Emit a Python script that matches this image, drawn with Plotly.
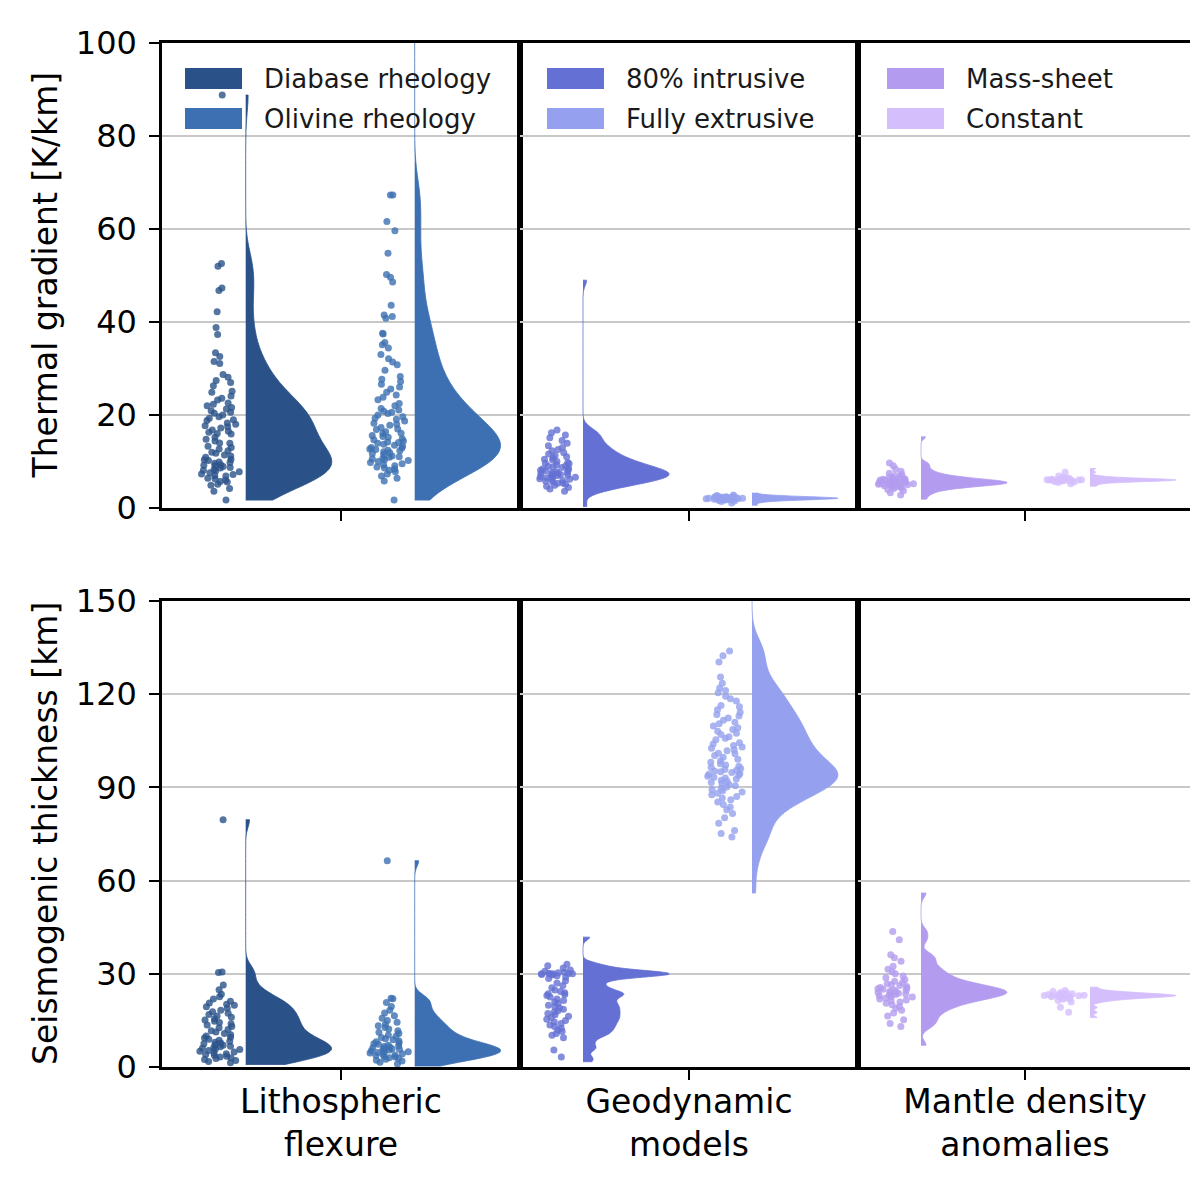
import numpy as np
import plotly.graph_objects as go

# page is drawn with an 8px body margin; reference pixel coords are shifted by this
OFF = 8
W, H = 1198 - OFF, 1178 - OFF

GROUP_LABELS = ['Lithospheric<br>flexure', 'Geodynamic<br>models', 'Mantle density<br>anomalies']
SERIES_NAMES = ['Diabase rheology', 'Olivine rheology', '80% intrusive',
                'Fully extrusive', 'Mass-sheet', 'Constant']
SERIES_COLORS = ['#2a5289', '#3c70b2', '#6470d3', '#95a1ee', '#b39cef', '#d4bffc']
TG_TICKS = [0, 20, 40, 60, 80, 100]
ST_TICKS = [0, 30, 60, 90, 120, 150]

# thermal gradient [K/km] - the plotted sample points
tg_diabase = [1.7, 3.6, 4.2, 4.9, 5.1, 5.6, 5.7, 6.0, 6.3, 6.4, 6.9, 7.0, 7.2, 7.3, 7.6, 7.8, 8.0, 8.1,
              8.3, 8.6, 8.7, 8.9, 9.1, 9.2, 9.3, 9.6, 9.8, 9.9, 10.2, 10.4, 10.5, 10.9, 11.2, 11.4,
              11.8, 12.0, 12.3, 12.7, 13.0, 13.3, 13.9, 14.0, 14.4, 14.8, 15.2, 15.9, 16.0, 16.3,
              16.5, 16.8, 17.2, 17.5, 17.7, 18.0, 18.3, 18.8, 19.0, 19.3, 19.6, 20.0, 20.4, 20.6,
              20.9, 21.3, 21.6, 22.0, 22.3, 22.6, 23.2, 23.6, 24.1, 24.9, 25.1, 26.3, 27.0, 27.4,
              28.1, 28.7, 31.1, 31.5, 32.6, 33.4, 37.3, 38.8, 42.2, 46.8, 47.3, 52.0, 52.6, 88.8]
tg_olivine = [1.7, 5.8, 6.4, 6.9, 7.3, 7.8, 8.1, 8.4, 8.6, 8.8, 9.1, 9.3, 9.5, 9.8, 10.0, 10.2, 10.4,
              10.6, 10.7, 10.9, 11.0, 11.2, 11.5, 11.7, 11.9, 12.1, 12.3, 12.4, 12.6, 12.7, 12.9,
              13.0, 13.3, 13.5, 13.7, 13.9, 14.1, 14.2, 14.4, 14.7, 14.9, 15.2, 15.4, 15.6, 16.0,
              16.1, 16.4, 16.9, 17.0, 17.3, 17.8, 18.0, 18.2, 18.7, 19.1, 19.3, 19.6, 20.0, 20.3,
              20.6, 20.8, 21.1, 21.4, 22.0, 22.5, 23.3, 23.8, 24.3, 24.9, 25.6, 26.0, 26.6, 27.2,
              27.7, 28.3, 29.6, 30.8, 31.4, 32.1, 33.0, 34.4, 35.1, 35.6, 37.4, 37.6, 40.8, 41.2,
              41.5, 43.6, 48.6, 49.6, 50.2, 54.8, 59.6, 61.6, 67.3, 67.3]
tg_intrusive = [3.6, 4.1, 4.4, 4.7, 4.9, 5.1, 5.3, 5.4, 5.6, 5.8, 5.9, 6.1, 6.2, 6.3, 6.5, 6.6,
                6.7, 6.8, 6.9, 7.0, 7.1, 7.2, 7.3, 7.4, 7.5, 7.6, 7.7, 7.8, 8.0, 8.1, 8.2, 8.4,
                8.5, 8.7, 8.8, 9.0, 9.1, 9.3, 9.5, 9.6, 9.8, 10.0, 10.3, 10.5, 10.8, 11.0, 11.3,
                11.6, 11.9, 12.3, 12.6, 13.0, 13.4, 13.9, 14.5, 15.1, 15.7, 16.2, 16.8]
tg_extrusive = [1.1, 1.4, 1.5, 1.6, 1.7, 1.7, 1.8, 1.8, 1.9, 1.9, 1.9, 2.0, 2.0, 2.0, 2.0, 2.1,
                2.1, 2.1, 2.1, 2.2, 2.2, 2.2, 2.2, 2.3, 2.3, 2.3, 2.4, 2.4, 2.5, 2.5, 2.6, 2.7, 2.8]
tg_masssheet = [2.8, 3.3, 3.7, 4.0, 4.2, 4.3, 4.5, 4.6, 4.7, 4.8, 4.9, 5.0, 5.0, 5.1, 5.1, 5.2,
                5.3, 5.3, 5.4, 5.4, 5.5, 5.5, 5.6, 5.6, 5.7, 5.7, 5.8, 5.9, 6.0, 6.0, 6.1, 6.2,
                6.3, 6.4, 6.5, 6.6, 6.8, 7.0, 7.2, 7.5, 7.9, 8.4, 9.1, 9.7]
tg_constant = [5.2, 5.5, 5.6, 5.7, 5.8, 5.8, 5.9, 5.9, 5.9, 6.0, 6.0, 6.0, 6.0, 6.1, 6.1, 6.1,
               6.2, 6.2, 6.3, 6.3, 6.4, 6.5, 6.6, 6.9, 7.7]
# values that only feed the density curves (not among the plotted points)
tg_diabase_tail = []
tg_olivine_tail = [118.0]
tg_intrusive_tail = [0.3, 49.0]
tg_extrusive_tail = [0.6, 3.2]
tg_masssheet_tail = [1.9, 15.3]
tg_constant_tail = [4.7, 8.5]

# seismogenic thickness [km]
st_diabase = [1.4, 1.8, 2.1, 2.4, 2.7, 3.0, 3.2, 3.5, 3.8, 4.0, 4.3, 4.6, 4.8, 5.1, 5.3, 5.6, 5.8,
              6.0, 6.2, 6.5, 6.7, 7.0, 7.2, 7.5, 7.7, 8.0, 8.3, 8.6, 8.9, 9.3, 9.6, 10.0, 10.4,
              10.8, 11.3, 11.7, 12.1, 12.6, 13.0, 13.5, 13.9, 14.3, 14.7, 15.1, 15.5, 16.0, 16.4,
              16.9, 17.3, 17.8, 18.3, 18.9, 19.4, 19.9, 20.2, 20.6, 21.2, 21.9, 22.6, 23.4, 24.9,
              26.4, 30.4, 30.6, 79.6]
st_olivine = [1.0, 1.5, 1.9, 2.2, 2.5, 2.8, 3.0, 3.2, 3.5, 3.7, 3.9, 4.1, 4.3, 4.5, 4.7, 4.9, 5.0,
              5.2, 5.4, 5.5, 5.7, 5.9, 6.0, 6.2, 6.4, 6.6, 6.8, 7.0, 7.3, 7.5, 7.8, 8.1, 8.4, 8.8,
              9.1, 9.5, 9.9, 10.3, 10.8, 11.2, 11.7, 12.2, 12.7, 13.3, 13.8, 14.4, 15.0, 15.7,
              16.5, 17.4, 18.3, 19.5, 20.8, 22.0, 22.1, 66.4]
st_intrusive = [3.2, 5.5, 9.4, 10.2, 10.8, 11.4, 11.9, 12.5, 13.0, 13.5, 14.0, 14.5, 15.0, 15.4,
                15.9, 16.3, 16.8, 17.2, 17.7, 18.1, 18.6, 19.0, 19.5, 19.9, 20.4, 20.9, 21.4,
                21.9, 22.5, 23.0, 23.3, 23.6, 23.9, 24.3, 24.8, 25.5, 26.2, 27.0, 27.8, 28.5,
                29.0, 29.4, 29.6, 29.8, 29.9, 30.0, 30.0, 30.0, 30.1, 30.2, 30.3, 30.5, 30.8,
                31.2, 31.9, 32.6, 33.1]
st_extrusive = [74.0, 75.2, 76.1, 78.5, 80.2, 81.6, 82.8, 83.7, 84.5, 85.3, 86.0, 86.6, 87.1, 87.6,
                88.1, 88.5, 88.9, 89.3, 89.7, 90.1, 90.5, 90.9, 91.3, 91.6, 92.0, 92.3, 92.7,
                93.0, 93.3, 93.6, 93.9, 94.2, 94.5, 94.8, 95.0, 95.3, 95.5, 95.8, 96.1, 96.4,
                96.8, 97.2, 97.6, 98.1, 98.6, 99.1, 99.7, 100.3, 100.8, 101.0, 101.8, 102.1,
                102.6, 103.0, 103.5, 104.0, 104.4, 105.3, 105.8, 106.3, 107.0, 107.4, 108.1,
                108.6, 109.2, 109.8, 110.5, 111.0, 111.6, 112.3, 113.0, 113.5, 114.2, 115.0,
                116.0, 116.4, 117.8, 118.5, 119.3, 120.5, 121.2, 122.0, 123.5, 125.5, 130.4,
                132.4, 133.9]
st_masssheet = [13.0, 14.0, 15.2, 16.4, 17.4, 18.3, 18.9, 19.5, 20.0, 20.5, 20.9, 21.3, 21.6, 21.9,
                22.2, 22.5, 22.7, 22.9, 23.1, 23.3, 23.5, 23.7, 23.9, 24.0, 24.2, 24.4, 24.6,
                24.8, 25.0, 25.2, 25.4, 25.6, 25.9, 26.2, 26.5, 26.8, 27.2, 27.6, 28.1, 28.7,
                29.3, 30.0, 30.7, 31.5, 32.4, 34.0, 35.2, 36.1, 41.0, 43.6]
st_constant = [17.6, 19.2, 20.9, 21.4, 21.8, 22.0, 22.2, 22.4, 22.5, 22.6, 22.7, 22.8, 22.9, 23.0,
               23.0, 23.1, 23.2, 23.3, 23.4, 23.5, 23.6, 23.8, 24.0, 24.3, 24.6]
st_diabase_tail = [0.8]
st_olivine_tail = [0.3]
st_intrusive_tail = [1.7, 6.5, 8.0, 41.8]
st_extrusive_tail = [56.0, 64.0, 69.0, 72.0, 127.0, 137.0, 162.0]
st_masssheet_tail = [7.0, 56.0]
st_constant_tail = [15.9, 25.7]

ROWS = [
    dict(points=[tg_diabase, tg_olivine, tg_intrusive, tg_extrusive, tg_masssheet, tg_constant],
         tails=[tg_diabase_tail, tg_olivine_tail, tg_intrusive_tail, tg_extrusive_tail,
                tg_masssheet_tail, tg_constant_tail],
         bw=[3.8, 4.5, 1.2, 0.2, 0.5, 0.25], rng=[0, 100], ticks=TG_TICKS,
         title='Thermal gradient [K/km]'),
    dict(points=[st_diabase, st_olivine, st_intrusive, st_extrusive, st_masssheet, st_constant],
         tails=[st_diabase_tail, st_olivine_tail, st_intrusive_tail, st_extrusive_tail,
                st_masssheet_tail, st_constant_tail],
         bw=[2.5, 1.8, 1.0, 4.0, 1.5, 0.5], rng=[0, 150], ticks=ST_TICKS,
         title='Seismogenic thickness [km]'),
]

# pixel geometry of the panels (reference image coords)
COL_PX = [(162, 520), (520, 858), (858, 1192)]
ROW_PX = [(43, 508), (601, 1067)]
BASE_PX = [245.7, 583, 921]   # x of the first violin in each column
UNIT = 338.0                  # pixels per x unit
FONT = 'DejaVu Sans'


def fx(p):
    return (p - OFF) / W


def fy(p):
    return 1 - (p - OFF) / H


fig = go.Figure()

for r, row in enumerate(ROWS):
    for s in range(6):
        c = s // 2
        k = r * 3 + c + 1
        xa = 'x' if k == 1 else f'x{k}'
        ya = 'y' if k == 1 else f'y{k}'
        pos = 0.5 * (s % 2)
        col = SERIES_COLORS[s]
        pts = row['points'][s]
        dens = pts + row['tails'][s]
        # half violin (density)
        fig.add_trace(go.Violin(
            y=dens, x0=pos, xaxis=xa, yaxis=ya, name=f'{SERIES_NAMES[s]} {r}',
            side='positive', width=0.508, spanmode='hard', scalemode='width',
            bandwidth=row['bw'][s], points=False, fillcolor=col,
            line=dict(color=col, width=0.8), opacity=1, showlegend=False, hoverinfo='skip'))
        # jittered sample points left of the violin
        fig.add_trace(go.Violin(
            y=pts, x0=pos, xaxis=xa, yaxis=ya, name=f'{SERIES_NAMES[s]} pts {r}',
            side='positive', width=0.508, spanmode='hard', scalemode='width',
            bandwidth=row['bw'][s], points='all', pointpos=-0.29, jitter=0.25,
            fillcolor='rgba(0,0,0,0)', line=dict(color='rgba(0,0,0,0)', width=0),
            marker=dict(color=col, size=7, opacity=0.8, line=dict(width=0)),
            showlegend=False, hoverinfo='skip'))

layout = dict(width=W, height=H, margin=dict(l=0, r=0, t=0, b=0),
              plot_bgcolor='white', paper_bgcolor='white', showlegend=False,
              violinmode='overlay', font=dict(family=FONT, color='black'))

for r, row in enumerate(ROWS):
    for c in range(3):
        k = r * 3 + c + 1
        xl, xr = COL_PX[c]
        yt, yb = ROW_PX[r]
        x0 = (xl - BASE_PX[c]) / UNIT
        x1 = (xr - BASE_PX[c]) / UNIT
        xkey = 'xaxis' if k == 1 else f'xaxis{k}'
        ykey = 'yaxis' if k == 1 else f'yaxis{k}'
        layout[xkey] = dict(
            domain=[fx(xl), fx(xr)], anchor='y' if k == 1 else f'y{k}',
            range=[x0, x1], tickvals=[(x0 + x1) / 2], ticktext=[GROUP_LABELS[c]],
            showticklabels=(r == 1), ticks='outside', ticklen=10, tickwidth=2,
            tickcolor='black', tickfont=dict(size=33, family=FONT), ticklabelstandoff=-6,
            showgrid=False, zeroline=False, showline=True, mirror=True,
            linecolor='black', linewidth=2.5, automargin=False, fixedrange=True)
        layout[ykey] = dict(
            domain=[fy(yb), fy(yt)], anchor='x' if k == 1 else f'x{k}',
            range=row['rng'], tickvals=row['ticks'],
            showticklabels=(c == 0), ticks='outside' if c == 0 else '',
            ticklen=10, tickwidth=2, tickcolor='black',
            tickfont=dict(size=32, family=FONT), ticklabelstandoff=6,
            showgrid=True, gridcolor='#c8c8c8', gridwidth=1.5, zeroline=False,
            showline=True, mirror=True, linecolor='black', linewidth=2.5,
            automargin=False, fixedrange=True)

fig.update_layout(**layout)

# y-axis titles
for r, row in enumerate(ROWS):
    yt, yb = ROW_PX[r]
    fig.add_annotation(x=fx(45), y=fy((yt + yb) / 2), xref='paper', yref='paper',
                       text=row['title'], textangle=-90, showarrow=False,
                       xanchor='center', yanchor='middle', font=dict(size=33, family=FONT))

# legends, one per column in the top row
LEG_X = [185, 547, 887]
LEG_Y = [(68, 89), (108, 129)]
for c in range(3):
    for j in range(2):
        s = 2 * c + j
        y0, y1 = LEG_Y[j]
        fig.add_shape(type='rect', xref='paper', yref='paper',
                      x0=fx(LEG_X[c]), x1=fx(LEG_X[c] + 57), y0=fy(y1), y1=fy(y0),
                      fillcolor=SERIES_COLORS[s], line=dict(width=0), layer='above')
        fig.add_annotation(x=fx(LEG_X[c] + 77), y=fy((y0 + y1) / 2), xref='paper', yref='paper',
                           text=SERIES_NAMES[s], showarrow=False, xanchor='left',
                           yanchor='middle', font=dict(size=26, family=FONT, color='#1a1a1a'))

fig.write_html('out.html')
